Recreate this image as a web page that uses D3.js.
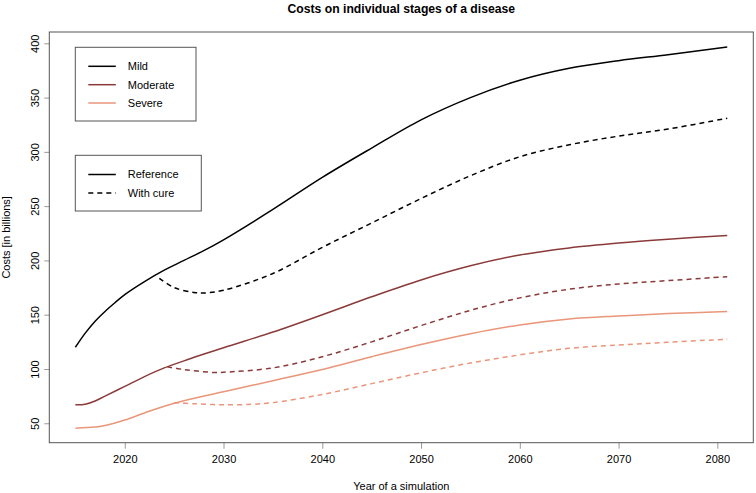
<!DOCTYPE html>
<html>
<head>
<meta charset="utf-8">
<script src="https://cdn.jsdelivr.net/npm/d3@7"></script>
<style>
  html, body { margin: 0; padding: 0; background: #fff; }
  svg { display: block; font-family: "Liberation Sans", Arial, Helvetica, sans-serif; }
</style>
</head>
<body>
<svg id="chart" width="756" height="493"></svg>
<script>
// ---- Data ----
const stages = ["Mild", "Moderate", "Severe"];
const scenarios = ["Reference", "With cure"];
const xTicks = [2020, 2030, 2040, 2050, 2060, 2070, 2080];
const yTicks = [50, 100, 150, 200, 250, 300, 350, 400];

const mildReference = [
  [2015, 120], [2016, 133], [2017, 144], [2018, 153], [2019, 161], [2020, 168.5],
  [2022, 180.5], [2024, 191], [2026, 200], [2028, 209], [2030, 219], [2035, 247],
  [2040, 276.5], [2045, 303.5], [2050, 329.5], [2055, 350], [2060, 366], [2065, 377],
  [2070, 384], [2075, 389.5], [2081, 396.5]
];
const mildCure = [
  [2023.5, 183.5], [2025, 175], [2027, 170.5], [2028, 170], [2030, 172.5], [2035, 188],
  [2040, 212], [2045, 234.5], [2050, 257], [2055, 278], [2060, 295.5], [2065, 306.5],
  [2070, 314.5], [2075, 321], [2081, 331]
];
const moderateReference = [
  [2015, 67], [2016, 67.5], [2017, 70.5], [2018, 75], [2020, 84], [2022, 93],
  [2024, 101], [2026, 107.5], [2030, 119.5], [2035, 134], [2040, 150], [2045, 166.5],
  [2050, 182], [2055, 195], [2060, 205], [2065, 211.5], [2070, 216], [2075, 219.5],
  [2081, 223]
];
const moderateCure = [
  [2024.3, 102], [2026, 99.5], [2029, 96.8], [2030, 97], [2035, 101], [2040, 111.3],
  [2045, 125], [2050, 140], [2055, 154], [2060, 165.5], [2065, 173.5], [2070, 178.3],
  [2075, 181.4], [2081, 185]
];
const severeReference = [
  [2015, 45.5], [2017, 46.5], [2018, 48], [2020, 53], [2022, 59.5], [2025, 68.4],
  [2030, 79], [2035, 89.2], [2040, 99.5], [2045, 111.3], [2050, 122.5], [2055, 132.5],
  [2060, 140.5], [2065, 146], [2070, 148.8], [2075, 151], [2081, 153]
];
const severeCure = [
  [2025, 69], [2027, 68], [2030, 67], [2033, 67.5], [2035, 69], [2040, 76.5],
  [2045, 86.5], [2050, 96.5], [2055, 105.5], [2060, 113], [2065, 119], [2070, 122],
  [2075, 124.6], [2081, 127.4]
];

// ---- Styling ----
const stageColors = ["#000000", "#8B3A3A", "#E9967A"];
const dashes = [null, "5,4"];

const series = [
  { stage: 0, scen: 0, data: mildReference },
  { stage: 0, scen: 1, data: mildCure },
  { stage: 1, scen: 0, data: moderateReference },
  { stage: 1, scen: 1, data: moderateCure },
  { stage: 2, scen: 0, data: severeReference },
  { stage: 2, scen: 1, data: severeCure }
];

const svg = d3.select("#chart");
const pLeft = 49.3, pRight = 753.3, pTop = 32, pBottom = 442.7;

const x = d3.scaleLinear().domain([2012.36, 2083.64]).range([pLeft, pRight]);
const y = d3.scaleLinear().domain([32.1, 410.4]).range([pBottom, pTop]);

const axisColor = "#555";

// Title
svg.append("text")
  .attr("x", (pLeft + pRight) / 2).attr("y", 13)
  .attr("text-anchor", "middle")
  .attr("font-size", 12.2).attr("font-weight", "bold")
  .attr("fill", "#000")
  .text("Costs on individual stages of a disease");

// Lines
const line = d3.line().x(d => x(d[0])).y(d => y(d[1])).curve(d3.curveCatmullRom.alpha(0.5));
series.forEach(s => {
  svg.append("path")
    .datum(s.data)
    .attr("d", line)
    .attr("fill", "none")
    .attr("stroke", stageColors[s.stage])
    .attr("stroke-width", 1.5)
    .attr("stroke-dasharray", dashes[s.scen]);
});

// Axes
const xAxis = d3.axisBottom(x).tickValues(xTicks).tickSize(6).tickPadding(7).tickFormat(d3.format("d"));
const gx = svg.append("g").attr("transform", `translate(0,${pBottom})`).call(xAxis);
gx.select(".domain").remove();
gx.selectAll(".tick line").attr("stroke", "#999");
gx.selectAll(".tick text").attr("font-size", 11).attr("fill", "#000").attr("font-family", null);

const yAxis = d3.axisLeft(y).tickValues(yTicks).tickSize(5).tickPadding(0).tickFormat(d3.format("d"));
const gy = svg.append("g").attr("transform", `translate(${pLeft},0)`).call(yAxis);
gy.select(".domain").remove();
gy.selectAll(".tick line").attr("stroke", "#999");
gy.selectAll(".tick text")
  .attr("font-size", 11).attr("fill", "#000").attr("font-family", null)
  .attr("x", null)
  .attr("text-anchor", "middle")
  .attr("transform", "translate(-14,0) rotate(-90)")
  .attr("dy", "0.35em");

// Plot box
svg.append("rect")
  .attr("x", pLeft).attr("y", pTop)
  .attr("width", pRight - pLeft).attr("height", pBottom - pTop)
  .attr("fill", "none").attr("stroke", axisColor).attr("stroke-width", 1);

// Axis labels
svg.append("text")
  .attr("x", (pLeft + pRight) / 2).attr("y", 490)
  .attr("text-anchor", "middle").attr("font-size", 11).attr("fill", "#000")
  .text("Year of a simulation");
svg.append("text")
  .attr("transform", `translate(10,${(pTop + pBottom) / 2}) rotate(-90)`)
  .attr("text-anchor", "middle").attr("font-size", 11).attr("fill", "#000")
  .text("Costs [in billions]");

// Legends
function legend(x0, y0, w, h, labels, colorFn, dashFn, rowYs) {
  const g = svg.append("g");
  g.append("rect").attr("x", x0).attr("y", y0).attr("width", w).attr("height", h)
    .attr("fill", "#fff").attr("stroke", axisColor).attr("stroke-width", 1);
  labels.forEach((lab, i) => {
    g.append("line")
      .attr("x1", x0 + 13).attr("x2", x0 + 40.5)
      .attr("y1", rowYs[i]).attr("y2", rowYs[i])
      .attr("stroke", colorFn(i)).attr("stroke-width", 1.5)
      .attr("stroke-dasharray", dashFn(i));
    g.append("text")
      .attr("x", x0 + 52.5).attr("y", rowYs[i]).attr("dy", "0.35em")
      .attr("font-size", 11).attr("fill", "#000").text(lab);
  });
}
legend(75.3, 47.3, 120.7, 73.7, stages, i => stageColors[i], () => null, [66.3, 84.7, 103]);
legend(75.3, 155.3, 126, 55.7, scenarios, () => "#000", i => dashes[i], [174.5, 193]);
</script>
</body>
</html>
